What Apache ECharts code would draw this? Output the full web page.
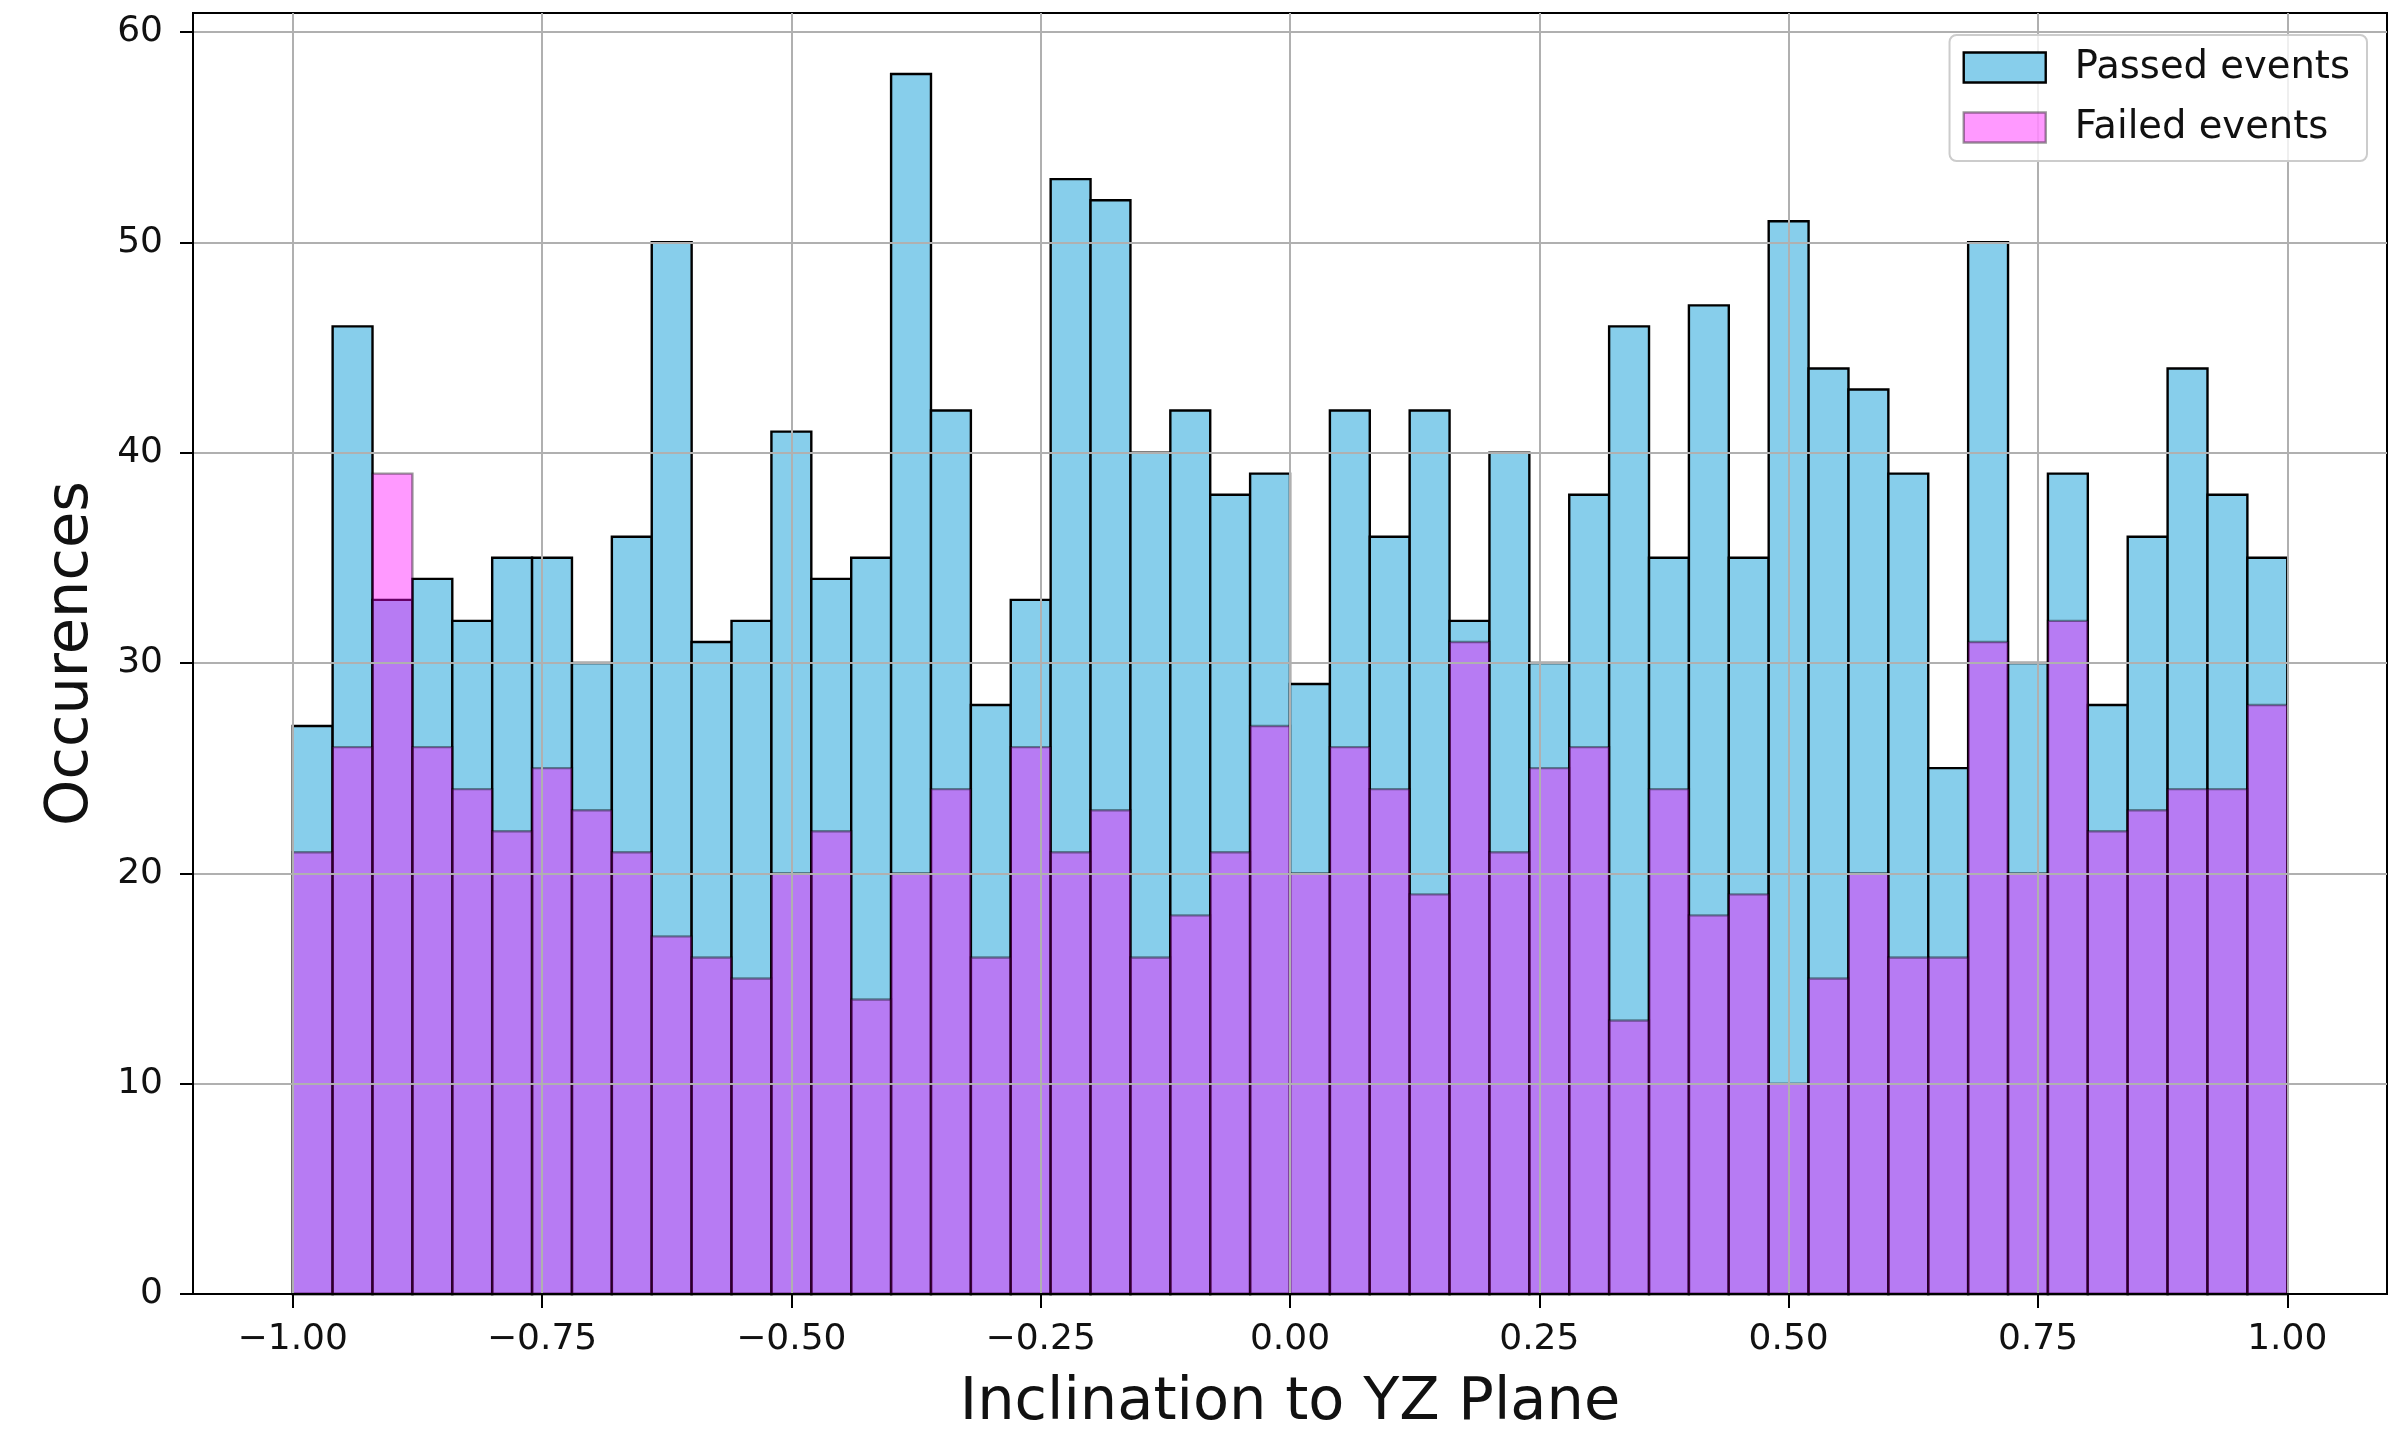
<!DOCTYPE html>
<html>
<head>
<meta charset="utf-8">
<script src="https://cdn.jsdelivr.net/npm/echarts@6/dist/echarts.min.js"></script>
<style>
html,body{margin:0;padding:0;background:#fff;}
#chart{width:2408px;height:1438px;}
</style>
</head>
<body>
<div id="chart"></div>
<script>
// Histogram bins: 50 bins from -1 to 1
const binStart = -1.0;
const binWidth = 0.04;
const passedCounts = [27,46,33,34,32,35,35,30,36,50,31,32,41,34,35,58,42,28,33,53,52,40,42,38,39,29,42,36,42,32,40,30,38,46,35,47,35,51,44,43,39,25,50,30,39,28,36,44,38,35];
const failedCounts = [21,26,39,26,24,22,25,23,21,17,16,15,20,22,14,20,24,16,26,21,23,16,18,21,27,20,26,24,19,31,21,25,26,13,24,18,19,10,15,20,16,16,31,20,32,22,23,24,24,28];
const xTicks = [-1.0,-0.75,-0.5,-0.25,0.0,0.25,0.5,0.75,1.0];
const yTicks = [0,10,20,30,40,50,60];
const seriesNames = ['Passed events','Failed events'];

function toBins(counts){
  return counts.map((c,i)=>{
    const a = +(binStart + i*binWidth).toFixed(4);
    const b = +(binStart + (i+1)*binWidth).toFixed(4);
    return [a,b,c];
  });
}

const FONT = 'DejaVu Sans';
const passedStyle = {fill:'#87CEEB', stroke:'#000000', lineWidth:2.4};
const failedStyle = {fill:'rgba(255,0,255,0.4)', stroke:'rgba(0,0,0,0.4)', lineWidth:2.4};

function makeRender(style){
  return function(params, api){
    const x0 = api.value(0), x1 = api.value(1), v = api.value(2);
    const p0 = api.coord([x0, v]);
    const p1 = api.coord([x1, 0]);
    return {
      type:'rect',
      shape:{x:p0[0], y:p0[1], width:p1[0]-p0[0], height:p1[1]-p0[1]},
      style:{fill:style.fill, stroke:style.stroke, lineWidth:style.lineWidth}
    };
  };
}

const chart = echarts.init(document.getElementById('chart'), null, {renderer:'canvas'});
chart.setOption({
  animation:false,
  backgroundColor:'#ffffff',
  grid:{left:193, right:21, top:13, bottom:141, show:true, borderColor:'#000', borderWidth:2, backgroundColor:'transparent', containLabel:false},
  legend:{
    data:[
      {name:seriesNames[0], itemStyle:{color:'#87CEEB', borderColor:'#000', borderWidth:2.4}},
      {name:seriesNames[1], itemStyle:{color:'rgba(255,0,255,0.4)', borderColor:'rgba(0,0,0,0.4)', borderWidth:2.4}}
    ],
    orient:'vertical', right:41, top:35, z:10,
    icon:'rect', itemWidth:82, itemHeight:30, itemGap:21,
    padding:[13,17,14,13],
    backgroundColor:'rgba(255,255,255,0.8)', borderColor:'#cccccc', borderWidth:2, borderRadius:7,
    selectedMode:false,
    textStyle:{fontFamily:FONT, fontSize:38.5, color:'#111', padding:[0,0,0,24]}
  },
  xAxis:{
    type:'value', min:-1.1, max:1.1, z:3,
    name:'Inclination to YZ Plane', nameLocation:'middle', nameGap:80,
    nameTextStyle:{fontFamily:FONT, fontSize:59, color:'#111'},
    axisLine:{show:true, onZero:false, lineStyle:{color:'#000', width:2}},
    axisTick:{show:true, inside:false, length:14, lineStyle:{color:'#000', width:2}, customValues:xTicks},
    axisLabel:{show:true, margin:28, fontFamily:FONT, fontSize:36, color:'#111', customValues:xTicks,
      formatter:(v)=> (v<0?'\u2212':'') + Math.abs(v).toFixed(2)},
    splitLine:{show:true, lineStyle:{color:'#b0b0b0', width:2}}
  },
  yAxis:{
    type:'value', min:0, max:60.9, z:3,
    name:'Occurences', nameLocation:'middle', nameGap:92, nameRotate:90,
    nameTextStyle:{fontFamily:FONT, fontSize:59, color:'#111'},
    axisLine:{show:true, onZero:false, lineStyle:{color:'#000', width:2}},
    axisTick:{show:true, inside:false, length:13, lineStyle:{color:'#000', width:2}, customValues:yTicks},
    axisLabel:{show:true, margin:30, fontFamily:FONT, fontSize:36, color:'#111', customValues:yTicks,
      formatter:(v)=> String(Math.round(v))},
    splitLine:{show:true, lineStyle:{color:'#b0b0b0', width:2}}
  },
  series:[
    {name:seriesNames[0], type:'custom', z:2, renderItem:makeRender(passedStyle), encode:{x:[0,1], y:2},
      itemStyle:{color:'#87CEEB'}, data:toBins(passedCounts)},
    {name:seriesNames[1], type:'custom', z:2, renderItem:makeRender(failedStyle), encode:{x:[0,1], y:2},
      itemStyle:{color:'rgba(255,0,255,0.4)'}, data:toBins(failedCounts)}
  ]
});
</script>
</body>
</html>
